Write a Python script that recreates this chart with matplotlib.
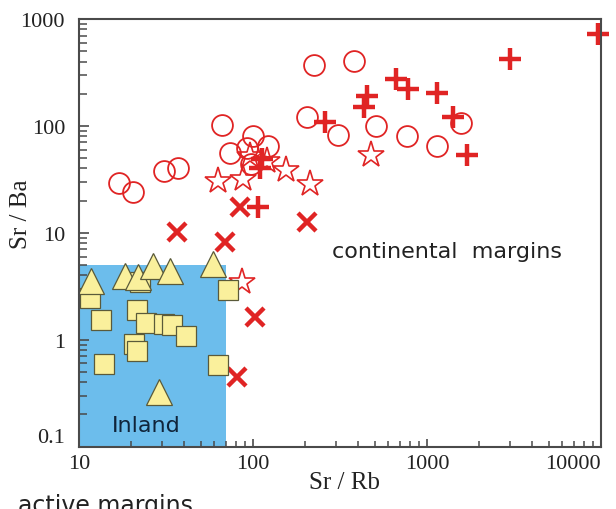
import matplotlib
matplotlib.use("Agg")
import matplotlib.pyplot as plt
from matplotlib.patches import Rectangle
from matplotlib.ticker import LogLocator, NullFormatter

# Sr/Rb (x) and Sr/Ba (y) ratios by sample group
circ_x = [17, 20.5, 31, 37, 66, 74, 92, 100, 122, 98, 204, 225, 309, 380, 509, 764, 1137, 1562]
circ_y = [29, 24, 38, 40, 102, 56, 61.5, 81, 65, 44, 120, 372, 82, 405, 100, 80, 65, 106]

star_x = [63, 88, 96, 120, 155, 213, 474, 86]
star_y = [30.6, 31.8, 52, 47, 38.5, 28.5, 53, 3.45]

plus_x = [107, 112, 110, 259, 663, 781, 1146, 450, 435, 1416, 1691, 3000, 9650]
plus_y = [17.3, 49, 40, 108, 277, 220, 205, 191, 149, 120, 53, 427, 720]

cross_x = [36.4, 69, 84, 204, 103, 81]
cross_y = [10.1, 8.2, 17.3, 12.6, 1.62, 0.445]

tri_x = [11.7, 18.4, 21.7, 26.7, 33.3, 59, 28.9]
tri_y = [3.56, 3.96, 3.83, 4.92, 4.41, 5.1, 0.322]

sq_x = [11.6, 13.3, 21.5, 24.2, 30.9, 34.1, 41, 20.8, 21.5, 13.9, 62.7, 72.1, 22.4]
sq_y = [2.44, 1.53, 1.90, 1.43, 1.40, 1.37, 1.08, 0.91, 0.79, 0.59, 0.58, 2.91, 3.44]

# Inland field limits
inland_x = [10, 70]
inland_y = [0.1, 5]

x_ticks = [10, 100, 1000, 10000]
y_ticks = [0.1, 1, 10, 100, 1000]
x_tick_labels = ["10", "100", "1000", "10000"]
y_tick_labels = ["0.1", "1", "10", "100", "1000"]

RED = "#e02424"
YELLOW = "#faf09c"
BLUE = "#6cbdec"
AXC = "#4a4a4a"
SERIF = ["Liberation Serif", "DejaVu Serif"]
SANS = ["DejaVu Sans"]

fig = plt.figure(figsize=(6.16, 5.10), dpi=100)
ax = fig.add_axes([0.1282, 0.1222, 0.8474, 0.8386])
ax.set_xscale("log")
ax.set_yscale("log")
ax.set_xlim(10, 10000)
ax.set_ylim(0.1, 1000)

ax.add_patch(Rectangle((inland_x[0], inland_y[0]), inland_x[1] - inland_x[0],
                       inland_y[1] - inland_y[0], facecolor=BLUE, edgecolor="none", zorder=1))

ax.plot(circ_x, circ_y, "o", ms=15, mfc="none", mec=RED, mew=1.3, ls="none", zorder=3, clip_on=False)
ax.plot(star_x, star_y, "*", ms=20, mfc="none", mec=RED, mew=1.2, ls="none", zorder=3, clip_on=False)
ax.plot(cross_x, cross_y, "x", ms=13, mec=RED, mew=3.2, ls="none", zorder=4, clip_on=False)
ax.plot(plus_x, plus_y, "+", ms=16, mec=RED, mew=3.2, ls="none", zorder=4, clip_on=False)
ax.plot(sq_x, sq_y, "s", ms=15, mfc=YELLOW, mec="#5a5a3a", mew=0.9, ls="none", zorder=5, clip_on=False)
ax.plot(tri_x, tri_y, "^", ms=19, mfc=YELLOW, mec="#5a5a3a", mew=0.9, ls="none", zorder=6, clip_on=False)

ax.text(284, 5.93, "continental  margins", family=SANS, fontsize=16, color="#222222",
        ha="left", va="baseline", zorder=7)
ax.text(15.4, 0.139, "Inland", family=SANS, fontsize=16, color="#10243a",
        ha="left", va="baseline", zorder=7)
fig.text(0.029, -0.006, "active margins", family=SANS, fontsize=17, color="#222222",
         ha="left", va="baseline")

for side in ["top", "right", "bottom", "left"]:
    ax.spines[side].set_color(AXC)
    ax.spines[side].set_linewidth(1.5)
    ax.spines[side].set_zorder(8)

ax.set_xticks(x_ticks)
ax.set_xticklabels(x_tick_labels)
ax.set_yticks(y_ticks)
ax.set_yticklabels(y_tick_labels)
ax.xaxis.set_minor_locator(LogLocator(base=10, subs=range(2, 10), numticks=20))
ax.yaxis.set_minor_locator(LogLocator(base=10, subs=range(2, 10), numticks=20))
ax.xaxis.set_minor_formatter(NullFormatter())
ax.yaxis.set_minor_formatter(NullFormatter())

ax.tick_params(axis="x", which="major", direction="in", length=6, width=1.2, color=AXC,
               pad=5, labelsize=16, top=False)
ax.tick_params(axis="x", which="minor", direction="in", length=4, width=1.1, color=AXC, top=False)
ax.tick_params(axis="y", which="major", direction="in", length=7, width=1.2, color=AXC,
               pad=10, labelsize=16, right=False)
ax.tick_params(axis="y", which="minor", direction="in", length=6, width=1.1, color=AXC, right=False)

for lab in ax.get_xticklabels() + ax.get_yticklabels():
    lab.set_family(SERIF)
    lab.set_color("#222222")

ax.xaxis.get_major_ticks()[-1].label1.set_horizontalalignment("right")
ax.yaxis.get_major_ticks()[0].label1.set_verticalalignment("bottom")

ax.set_xlabel("Sr / Rb", family=SERIF, fontsize=18, color="#222222")
ax.set_ylabel("Sr / Ba", family=SERIF, fontsize=18, color="#222222")
ax.xaxis.set_label_coords(0.508, -0.058)
ax.yaxis.set_label_coords(-0.09, 0.545)

fig.savefig("out.png", dpi=100)
